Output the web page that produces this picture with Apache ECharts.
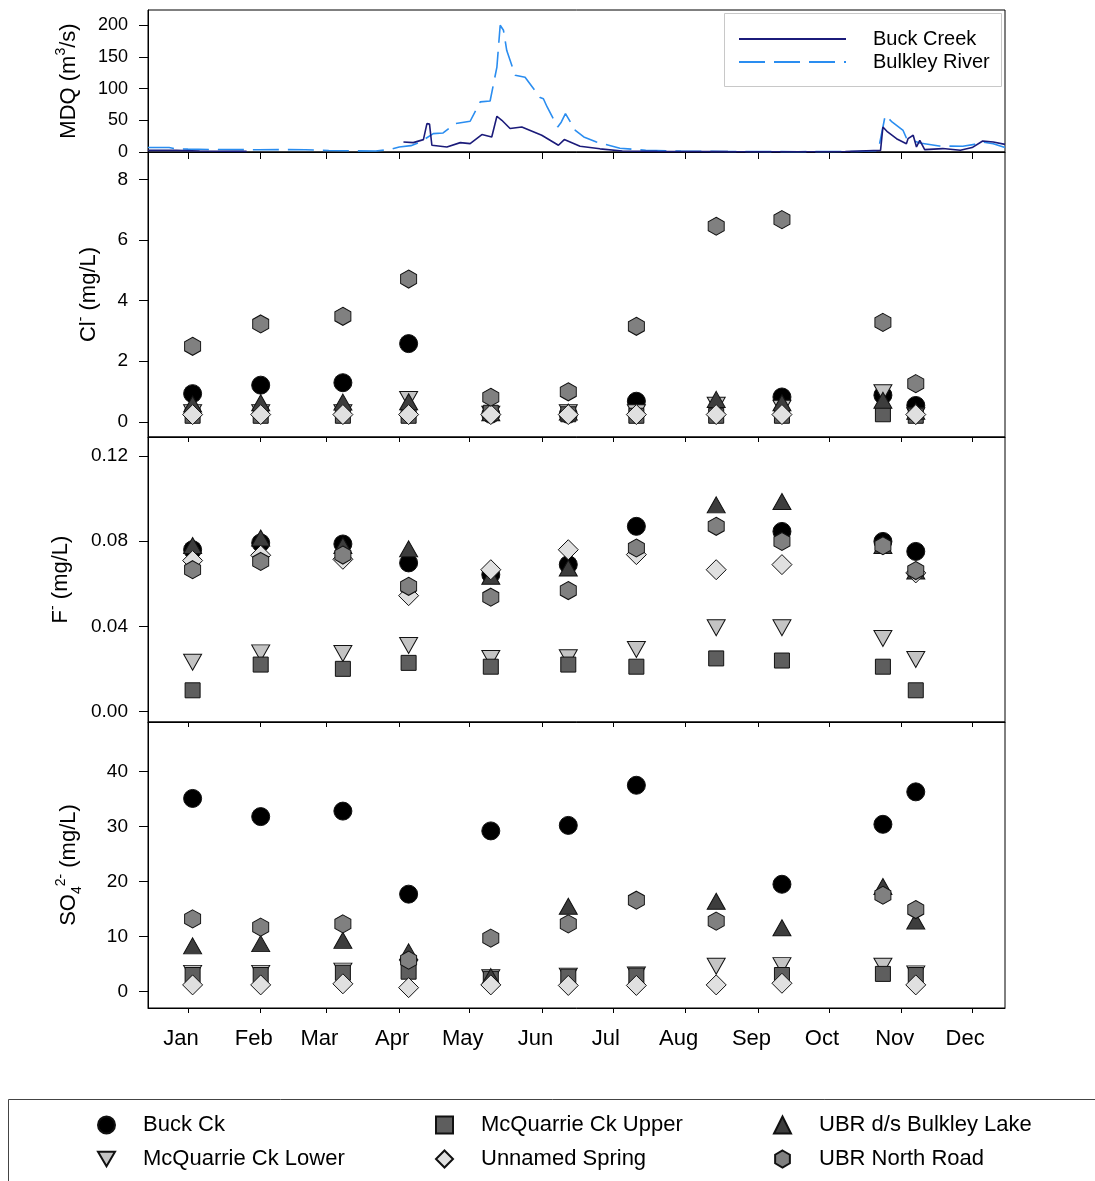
<!DOCTYPE html>
<html><head><meta charset="utf-8">
<script src="https://cdn.jsdelivr.net/npm/echarts@6/dist/echarts.min.js"></script>
<style>html,body{margin:0;padding:0;background:#fff}#c{width:1095px;height:1181px}</style>
</head><body><div id="c"></div>
<script>
// ---------- DATA ----------
const monthNames = ['Jan','Feb','Mar','Apr','May','Jun','Jul','Aug','Sep','Oct','Nov','Dec'];
const monthStartDays = [0,31,59,90,120,151,181,212,243,273,304,334]; // day of year (Jan 1 = 0)
const sampleDays = [2,31,66,94,129,162,191,225,253,296,310]; // sampling dates (day of year)

// Mean daily discharge (m3/s)
const bulkleyDays = [-17,-8,-5,0,10,20,30,40,50,60,70,80,86,90,95,99,104.5,108.7,113.8,120.2,124.5,128.7,131.6,133,134.4,135.8,139.4,143.6,150,151.4,153,157.5,159,160.8,165,168.6,174,184,195,210,230,260,285,294,297,300,304.6,306,311.7,320,330,335,338,343,348];
const bulkleyQ    = [7,7,5,4.5,4,3.8,3.5,3.8,3.5,2.3,1.9,1.6,4,7.9,10,15.8,29,30,44.8,48.5,79,80.5,134,200,192,160,121,118,86,84,71,39.5,47,60.6,34,23.7,15.8,6,2.7,1.5,0.8,0.5,0.8,2,58,47,34,22,14.2,9.5,9,12,16,13,7];
const buckDays = [-17,-5,5,15,25,26,91.8,96,100.3,101.8,102.9,103.9,104.6,110.3,116,120.2,125.2,129.4,131.6,133.7,137.2,142.2,150.7,157.8,160.3,167,175.5,185,200,230,260,280,295,296,298,301.8,306,306.7,308.9,310.3,311.7,313.8,321.5,329,334,338.5,343,348];
const buckQ    = [2.5,2.5,1.5,1.2,1.0,null,15.8,14.8,19.5,44.8,44,10.6,7.9,7.9,14.8,13.2,27.5,23.7,56.4,50,37,39.5,26.4,10.6,19.6,9,5,1.5,1,0.6,0.5,0.8,2.5,39.5,31.6,21,13,21,26.4,8,18.5,3.8,5.4,2.7,7,17.4,15.8,12];

// Chloride (mg/L)
const clBuckCk   = [0.93,1.21,1.29,2.58,0.25,0.25,0.68,null,0.82,0.88,0.54];
const clMcqLower = [0.30,0.30,0.30,0.74,0.25,0.30,0.30,0.55,0.45,0.96,0.20];
const clMcqUpper = [0.20,0.20,0.20,0.20,0.30,0.25,0.20,0.20,0.20,0.25,0.20];
const clUbrLake  = [0.59,0.63,0.65,0.66,0.30,0.32,null,0.74,0.63,0.71,0.35];
const clSpring   = [0.24,0.24,0.24,0.24,0.24,0.24,0.24,0.24,0.24,null,0.24];
const clUbrNorth = [2.49,3.23,3.48,4.71,0.81,0.99,3.15,6.45,6.67,3.28,1.26];

// Fluoride (mg/L)
const fBuckCk   = [0.0760,0.0792,0.0787,0.0698,0.0643,0.0690,0.0870,null,0.0846,0.0799,0.0752];
const fMcqLower = [0.0231,0.0275,0.0272,0.0310,0.0249,0.0252,0.0291,0.0393,0.0393,0.0343,0.0244];
const fMcqUpper = [0.0099,0.0220,0.0200,0.0228,0.0210,0.0220,0.0210,0.0249,0.0239,0.0210,0.0099];
const fUbrLake  = [0.0780,0.0815,0.0780,0.0764,0.0635,0.0674,null,0.0971,0.0987,0.0780,0.0660];
const fSpring   = [0.0709,0.0734,0.0715,0.0544,0.0666,0.0760,0.0737,0.0666,0.0690,null,0.0651];
const fUbrNorth = [0.0666,0.0705,0.0735,0.0588,0.0537,0.0568,0.0768,0.0870,0.0799,0.0779,0.0662];

// Sulphate (mg/L)
const so4BuckCk   = [35.1,31.8,32.8,17.7,29.2,30.2,37.5,null,19.5,30.4,36.3];
const so4McqLower = [3.3,3.3,3.7,4.3,2.5,2.8,3.0,4.6,4.7,4.6,3.2];
const so4McqUpper = [3.0,3.0,3.4,3.6,2.3,2.7,2.9,null,3.0,3.2,3.0];
const so4UbrLake  = [8.3,8.7,9.3,7.2,2.7,15.5,null,16.4,11.6,19.1,12.8];
const so4Spring   = [1.2,1.2,1.4,0.7,1.2,1.1,1.1,1.2,1.5,null,1.2];
const so4UbrNorth = [13.2,11.7,12.3,5.7,9.7,12.3,16.6,12.8,null,17.5,14.9];

const mdqTicks = [0,50,100,150,200];
const clTicks = [0,2,4,6,8];
const fTicks = [0,0.04,0.08,0.12];
const so4Ticks = [0,10,20,30,40];

// ---------- STYLE ----------
const FONT = 'Liberation Sans, Arial, Helvetica, sans-serif';
const HEX = 'path://M8.66,0 L17.32,5 L17.32,15 L8.66,20 L0,15 L0,5 Z';
const DTRI = 'path://M0,0 L20,0 L10,17.32 Z';
const sites = [
  {name:'Buck Ck',              symbol:'circle',   size:18,      fill:'#000000'},
  {name:'McQuarrie Ck Lower',   symbol:DTRI,       size:[18,16], fill:'#c4c4c4'},
  {name:'McQuarrie Ck Upper',   symbol:'rect',     size:15,      fill:'#5e5e5e'},
  {name:'UBR d/s Bulkley Lake', symbol:'triangle', size:[18,16], fill:'#3d3d3d'},
  {name:'Unnamed Spring',       symbol:'diamond',  size:20,      fill:'#e0e0e0'},
  {name:'UBR North Road',       symbol:HEX,        size:[16,18], fill:'#808080'}
];
const panels = [
  {values:[clBuckCk,clMcqLower,clMcqUpper,clUbrLake,clSpring,clUbrNorth]},
  {values:[fBuckCk,fMcqLower,fMcqUpper,fUbrLake,fSpring,fUbrNorth]},
  {values:[so4BuckCk,so4McqLower,so4McqUpper,so4UbrLake,so4Spring,so4UbrNorth]}
];

const gridDefs = [
  {left:148, width:857, top:10,  height:142},
  {left:148, width:857, top:152, height:285},
  {left:148, width:857, top:437, height:285},
  {left:148, width:857, top:722, height:286}
];

const nameRich = {
  n:   {fontSize:22, fontFamily:FONT, color:'#000', lineHeight:30},
  sup: {fontSize:14, fontFamily:FONT, color:'#000', lineHeight:14, verticalAlign:'top'},
  sub: {fontSize:14, fontFamily:FONT, color:'#000', lineHeight:14, verticalAlign:'bottom'}
};

function xAxis(i){
  const last = i === 3;
  return {
    type:'value', gridIndex:i, min:-17, max:348, position:'bottom',
    axisLine:{show:true, onZero:false, lineStyle:{color:'#000', width:1}},
    axisTick:{show:true, inside:false, length: i===0 ? 7 : 5, customValues:monthStartDays, lineStyle:{color:'#000'}},
    axisLabel:{show:last, customValues:monthStartDays, margin:20, fontSize:22, fontFamily:FONT, color:'#000',
      padding:[0,14,0,0],
      formatter:function(v){ const k = monthStartDays.indexOf(v); return k>=0 ? monthNames[k] : ''; }},
    splitLine:{show:false}
  };
}
function yAxis(i, min, max, ticks, name, gap, fmt, fs){
  return {
    type:'value', gridIndex:i, min:min, max:max,
    axisLine:{show:true, onZero:false, lineStyle:{color:'#000'}},
    axisTick:{show:true, length:9, customValues:ticks, lineStyle:{color:'#000'}},
    axisLabel:{customValues:ticks, margin:20, fontSize:fs, fontFamily:FONT, color:'#000', formatter:fmt},
    splitLine:{show:false},
    name:name, nameLocation:'middle', nameGap:gap, nameRotate:90, nameMoveOverlap:false,
    nameTextStyle:{rich:nameRich}
  };
}

const series = [];
series.push({
  name:'Buck Creek', type:'line', xAxisIndex:0, yAxisIndex:0, showSymbol:false, symbol:'none',
  connectNulls:false, z:3,
  lineStyle:{color:'#1b1b7a', width:1.6},
  itemStyle:{color:'#1b1b7a'},
  data: buckDays.map((d,k)=>[d, buckQ[k]===null ? '-' : buckQ[k]])
});
series.push({
  name:'Bulkley River', type:'line', xAxisIndex:0, yAxisIndex:0, showSymbol:false, symbol:'none', z:2,
  lineStyle:{color:'#2a8df0', width:1.6, type:[26,9]},
  itemStyle:{color:'#2a8df0'},
  data: bulkleyDays.map((d,k)=>[d, bulkleyQ[k]])
});
panels.forEach((p, pi)=>{
  sites.forEach((s, si)=>{
    const vals = p.values[si];
    series.push({
      name:s.name, type:'scatter', xAxisIndex:pi+1, yAxisIndex:pi+1,
      symbol:s.symbol, symbolSize:s.size, symbolKeepAspect:false,
      itemStyle:{color:s.fill, borderColor:'#111', borderWidth:1, opacity:1},
      emphasis:{disabled:true},
      data: sampleDays.map((d,k)=> vals[k]===null ? null : [d, vals[k]]).filter(v=>v!==null)
    });
  });
});

function siteLegend(left, names){
  return {
    orient:'vertical', left:left, top:1114, padding:0, itemWidth:17, itemHeight:17, itemGap:12,
    data:names, selectedMode:false,
    textStyle:{fontSize:22, fontFamily:FONT, color:'#000', lineHeight:22, padding:[0,0,0,23]}
  };
}

const option = {
  animation:false,
  backgroundColor:'#fff',
  grid: gridDefs.map(g=>Object.assign({show:true, borderColor:'#000', borderWidth:1, backgroundColor:'transparent', containLabel:false, outerBoundsMode:'none'}, g)),
  xAxis:[0,1,2,3].map(xAxis),
  yAxis:[
    yAxis(0, 0, 224, mdqTicks, '{n|MDQ (m}{sup|3}{n|/s)}', 64, v=>String(v), 18),
    yAxis(1, -0.5, 8.9, clTicks, '{n|Cl}{sup|-}{n| (mg/L)}', 44, v=>String(v), 19),
    yAxis(2, -0.005, 0.129, fTicks, '{n|F}{sup|-}{n| (mg/L)}', 72, v=>v.toFixed(2), 19),
    yAxis(3, -3, 49, so4Ticks, '{n|SO}{sub|4}{sup|2-}{n| (mg/L)}', 64, v=>String(v), 19)
  ],
  legend:[
    {orient:'vertical', left:738, top:28, padding:0, itemWidth:107, itemHeight:14, itemGap:1, selectedMode:false,
     data:['Buck Creek','Bulkley River'],
     itemStyle:{opacity:0, borderWidth:0},
     textStyle:{fontSize:20, fontFamily:FONT, color:'#000', lineHeight:22, padding:[0,0,0,22]}},
    siteLegend(97,  ['Buck Ck','McQuarrie Ck Lower']),
    siteLegend(435, ['McQuarrie Ck Upper','Unnamed Spring']),
    siteLegend(773, ['UBR d/s Bulkley Lake','UBR North Road'])
  ],
  graphic:[
    {type:'rect', left:724, top:13, shape:{width:277, height:73}, style:{fill:'#fff', stroke:'#c8c8c8', lineWidth:1}, z:1},
    {type:'rect', left:6, top:1097, shape:{width:1100, height:100}, style:{fill:'none', stroke:'#444', lineWidth:1}, z:1}
  ],
  series:series
};

const chart = echarts.init(document.getElementById('c'), null, {renderer:'canvas'});
chart.setOption(option);
</script>
</body></html>
